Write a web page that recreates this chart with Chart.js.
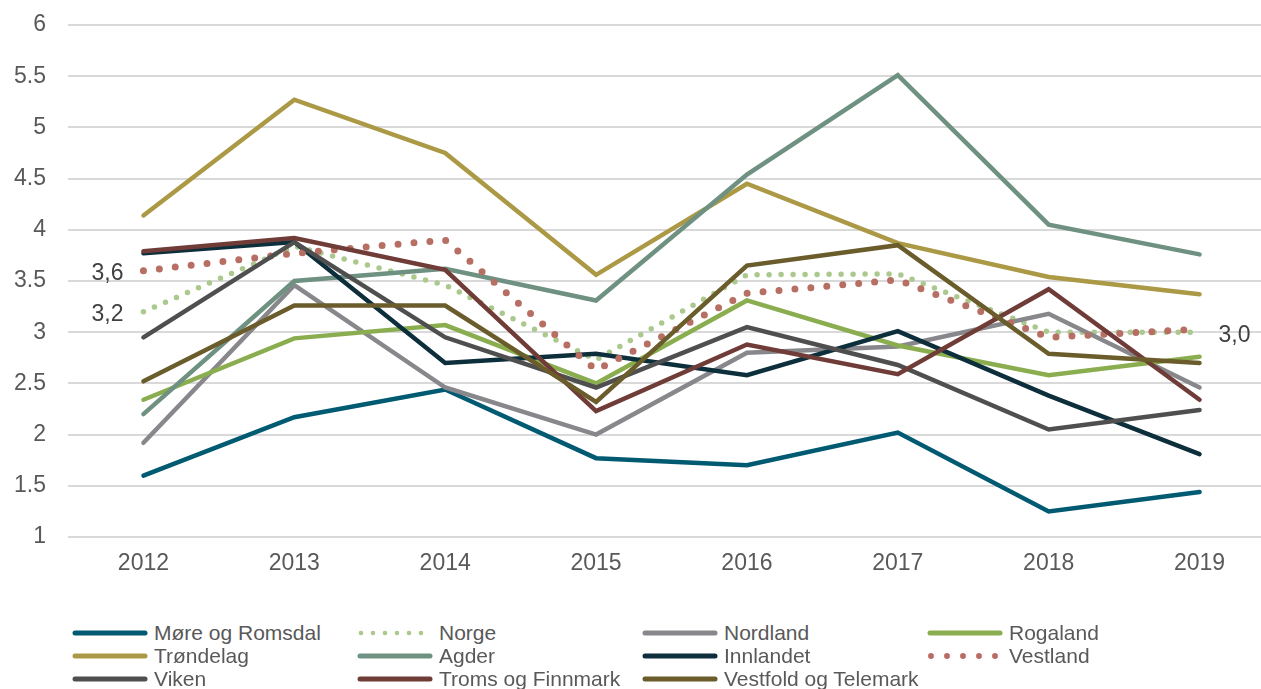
<!DOCTYPE html>
<html>
<head>
<meta charset="utf-8">
<script src="https://cdn.jsdelivr.net/npm/chart.js@4"></script>
<style>
  body { margin: 0; width: 1261px; height: 689px; overflow: hidden; background: #fff;
         font-family: 'Liberation Sans', Arial, sans-serif; position: relative; }
  #wrap { position: absolute; left: 0; top: 0; width: 1275px; height: 580px; }
  #legend { position: absolute; left: 72px; top: 621px; display: grid;
            grid-template-columns: repeat(4, 285px); grid-auto-rows: 23px; }
  .item { display: flex; align-items: center; font-size: 21px; color: #595959; white-space: nowrap; }
  .item canvas { margin-right: 6px; }
</style>
</head>
<body>
<div id="wrap"><canvas id="chart" width="1275" height="580"></canvas></div>
<div id="legend"></div>
<script>
  var years = ['2012', '2013', '2014', '2015', '2016', '2017', '2018', '2019'];

  var moreOgRomsdal      = [1.60, 2.17, 2.44, 1.77, 1.70, 2.02, 1.25, 1.44];
  var norge              = [3.2, 3.84, 3.46, 2.73, 3.56, 3.57, 3.0, 3.0];
  var nordland           = [1.92, 3.46, 2.46, 2.00, 2.80, 2.86, 3.18, 2.46];
  var rogaland           = [2.34, 2.94, 3.07, 2.50, 3.31, 2.87, 2.58, 2.76];
  var trondelag          = [4.14, 5.27, 4.75, 3.56, 4.45, 3.87, 3.54, 3.37];
  var agder              = [2.20, 3.50, 3.62, 3.31, 4.54, 5.51, 4.05, 3.76];
  var innlandet          = [3.77, 3.88, 2.70, 2.79, 2.58, 3.01, 2.38, 1.81];
  var vestland           = [3.6, 3.77, 3.90, 2.63, 3.38, 3.51, 2.95, 3.03];
  var viken              = [2.95, 3.88, 2.95, 2.46, 3.05, 2.68, 2.05, 2.24];
  var tromsOgFinnmark    = [3.79, 3.92, 3.61, 2.23, 2.88, 2.59, 3.42, 2.34];
  var vestfoldOgTelemark = [2.52, 3.26, 3.26, 2.32, 3.65, 3.85, 2.79, 2.70];

  var yTicks = [1, 1.5, 2, 2.5, 3, 3.5, 4, 4.5, 5, 5.5, 6];

  // value labels written next to single points
  var valueNotes = [
    { series: 'Vestland', index: 0, side: 'left' },
    { series: 'Norge', index: 0, side: 'left' },
    { series: 'Norge', index: 7, side: 'right' }
  ];

  var FONT = '"Liberation Sans", Arial, sans-serif';

  function solid(label, data, color) {
    return { label: label, data: data, borderColor: color, backgroundColor: color,
             borderWidth: 4.5, borderCapStyle: 'round', borderJoinStyle: 'miter' };
  }
  function dotted(label, data, color, width, gap) {
    return { label: label, data: data, borderColor: color, backgroundColor: color,
             borderWidth: width, borderDash: [0, gap], borderCapStyle: 'round' };
  }

  var datasets = [
    solid('Møre og Romsdal', moreOgRomsdal, '#005a71'),
    dotted('Norge', norge, '#abc98d', 5.5, 12),
    solid('Nordland', nordland, '#88878b'),
    solid('Rogaland', rogaland, '#8aae4f'),
    solid('Trøndelag', trondelag, '#ab9945'),
    solid('Agder', agder, '#6f9182'),
    solid('Innlandet', innlandet, '#0d2f3b'),
    dotted('Vestland', vestland, '#b76f63', 7, 16),
    solid('Viken', viken, '#4f4f50'),
    solid('Troms og Finnmark', tromsOgFinnmark, '#6f3c37'),
    solid('Vestfold og Telemark', vestfoldOgTelemark, '#6a5c2b')
  ];
  // later series sit on top
  datasets.forEach(function (ds, i) {
    ds.order = -i;
    ds.pointRadius = 0;
    ds.tension = 0;
    ds.fill = false;
  });

  var notesPlugin = {
    id: 'valueNotes',
    afterDatasetsDraw: function (chart) {
      var ctx = chart.ctx;
      var xs = chart.scales.x, ys = chart.scales.y;
      ctx.save();
      ctx.font = '23px ' + FONT;
      ctx.fillStyle = '#404040';
      ctx.textBaseline = 'middle';
      valueNotes.forEach(function (n) {
        var ds = chart.data.datasets.find(function (d) { return d.label === n.series; });
        var v = ds.data[n.index];
        var x = xs.getPixelForValue(n.index);
        var y = ys.getPixelForValue(v) + 3;
        var txt = v.toFixed(1).replace('.', ',');
        if (n.side === 'left') {
          ctx.textAlign = 'right';
          ctx.fillText(txt, x - 20, y);
        } else {
          ctx.textAlign = 'left';
          ctx.fillText(txt, x + 19, y);
        }
      });
      ctx.restore();
    }
  };

  var ctx = document.getElementById('chart').getContext('2d');
  var chart = new Chart(ctx, {
    type: 'line',
    data: { labels: years, datasets: datasets },
    options: {
      responsive: false,
      animation: false,
      layout: { padding: { top: 25, right: 0, bottom: 0, left: 0 } },
      plugins: { legend: { display: false }, tooltip: { enabled: false } },
      scales: {
        x: {
          offset: true,
          grid: { display: false, drawTicks: false },
          border: { display: false },
          ticks: { color: '#595959', padding: 13, font: { size: 23, family: FONT } },
          afterFit: function (scale) { scale.height = 43; }
        },
        y: {
          min: 1, max: 6,
          afterBuildTicks: function (scale) {
            scale.ticks = yTicks.map(function (v) { return { value: v }; });
          },
          grid: { color: '#d9d9d9', lineWidth: 2, drawTicks: false },
          border: { display: false },
          ticks: {
            color: '#595959', padding: 22,
            font: { size: 23, family: FONT },
            callback: function (value) { return String(value); }
          },
          afterFit: function (scale) {
            scale.width = 68;
            scale.paddingTop = 0;
            scale.paddingBottom = 0;
          }
        }
      }
    },
    plugins: [notesPlugin]
  });

  // legend in four columns, drawn from the chart's own datasets
  var legend = document.getElementById('legend');
  chart.data.datasets.forEach(function (ds) {
    var item = document.createElement('div');
    item.className = 'item';
    var c = document.createElement('canvas');
    c.width = 76; c.height = 12;
    var g = c.getContext('2d');
    g.strokeStyle = ds.borderColor;
    g.lineCap = 'round';
    if (ds.borderDash) {
      g.lineWidth = ds.borderWidth * 0.85;
      g.setLineDash(ds.borderDash);
      g.beginPath(); g.moveTo(4, 6); g.lineTo(72, 6); g.stroke();
    } else {
      g.lineWidth = 5;
      g.beginPath(); g.moveTo(3, 6); g.lineTo(73, 6); g.stroke();
    }
    item.appendChild(c);
    var span = document.createElement('span');
    span.textContent = ds.label;
    item.appendChild(span);
    legend.appendChild(item);
  });
</script>
</body>
</html>
